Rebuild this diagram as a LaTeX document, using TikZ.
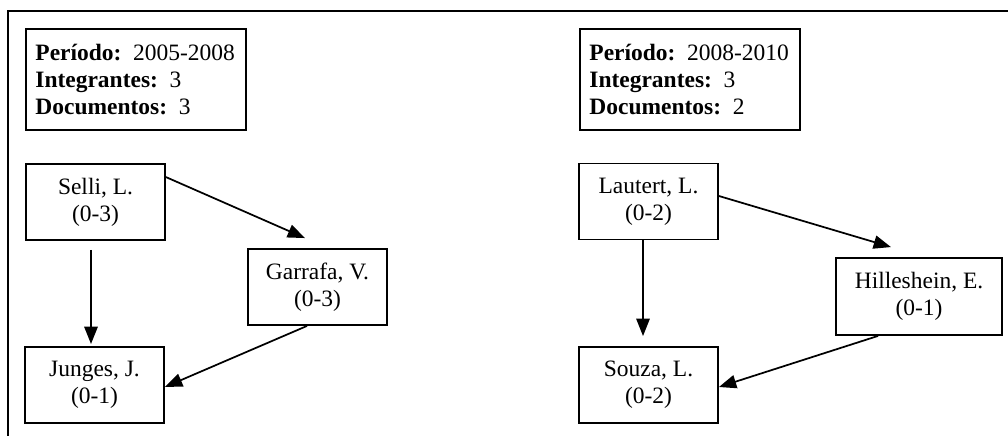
\documentclass[tikz,border=0pt]{standalone}
\usepackage{fontspec}
\setmainfont{Liberation Serif}
\usetikzlibrary{arrows.meta,calc,positioning}
\begin{document}
\begin{tikzpicture}[x=0.75pt,y=-0.75pt,
  every node/.style={font=\fontsize{17.6pt}{20.25pt}\selectfont},
  infobox/.style={draw,line width=1.4pt,anchor=north west,inner xsep=9.5*0.75pt,inner ysep=0pt,
     text width=201*0.75pt,align=left,minimum height=101*0.75pt},
  person/.style={draw,line width=1.4pt,align=center,inner sep=0pt,
     minimum width=139*0.75pt,minimum height=76*0.75pt},
  link/.style={line width=1.3pt,-{Triangle[length=13pt,width=10pt]}}]
\useasboundingbox (0,0) rectangle (1008,436);
\draw[line width=1.5pt] (1008,11) -- (8,11) -- (8,436);
% left group
\node[infobox] (info1) at (25,28) {\mbox{\textbf{Período:} 2005-2008}\\\mbox{\textbf{Integrantes:} 3}\\\mbox{\textbf{Documentos:} 3}};
\node[person] (selli) at (95.5,202) {Selli, L.\\(0-3)};
\node[person] (junges) at (94.5,385) {Junges, J.\\(0-1)};
\node[person] (garrafa) at (317.5,287) {Garrafa, V.\\(0-3)};
% right group
\node[infobox] (info2) at (579,28) {\mbox{\textbf{Período:} 2008-2010}\\\mbox{\textbf{Integrantes:} 3}\\\mbox{\textbf{Documentos:} 2}};
\node[person] (lautert) at (648.5,201.5) {Lautert, L.\\(0-2)};
\node[person] (souza) at (648.5,385) {Souza, L.\\(0-2)};
\node[person,minimum width=166*0.75pt,minimum height=77*0.75pt] (hill) at (919,296.5) {Hilleshein, E.\\(0-1)};
% edges
\draw[link] ($(selli.north east)+(0,14)$) -- ($(garrafa.north)+(-12.5,-10)$);
\draw[link] ($(selli.south)+(-4.5,9)$) -- ($(junges.north)+(-3.5,-2)$);
\draw[link] ($(garrafa.south)+(-10.5,0)$) -- ($(junges.east)+(0,2)$);
\draw[link] ($(lautert.east)+(0,-5.5)$) -- ($(hill.north)+(-28,-10)$);
\draw[link] ($(lautert.south)+(-5.5,0)$) -- ($(souza.north)+(-5.5,-10)$);
\draw[link] ($(hill.south)+(-41,0)$) -- ($(souza.east)+(0,2)$);
\end{tikzpicture}
\end{document}
